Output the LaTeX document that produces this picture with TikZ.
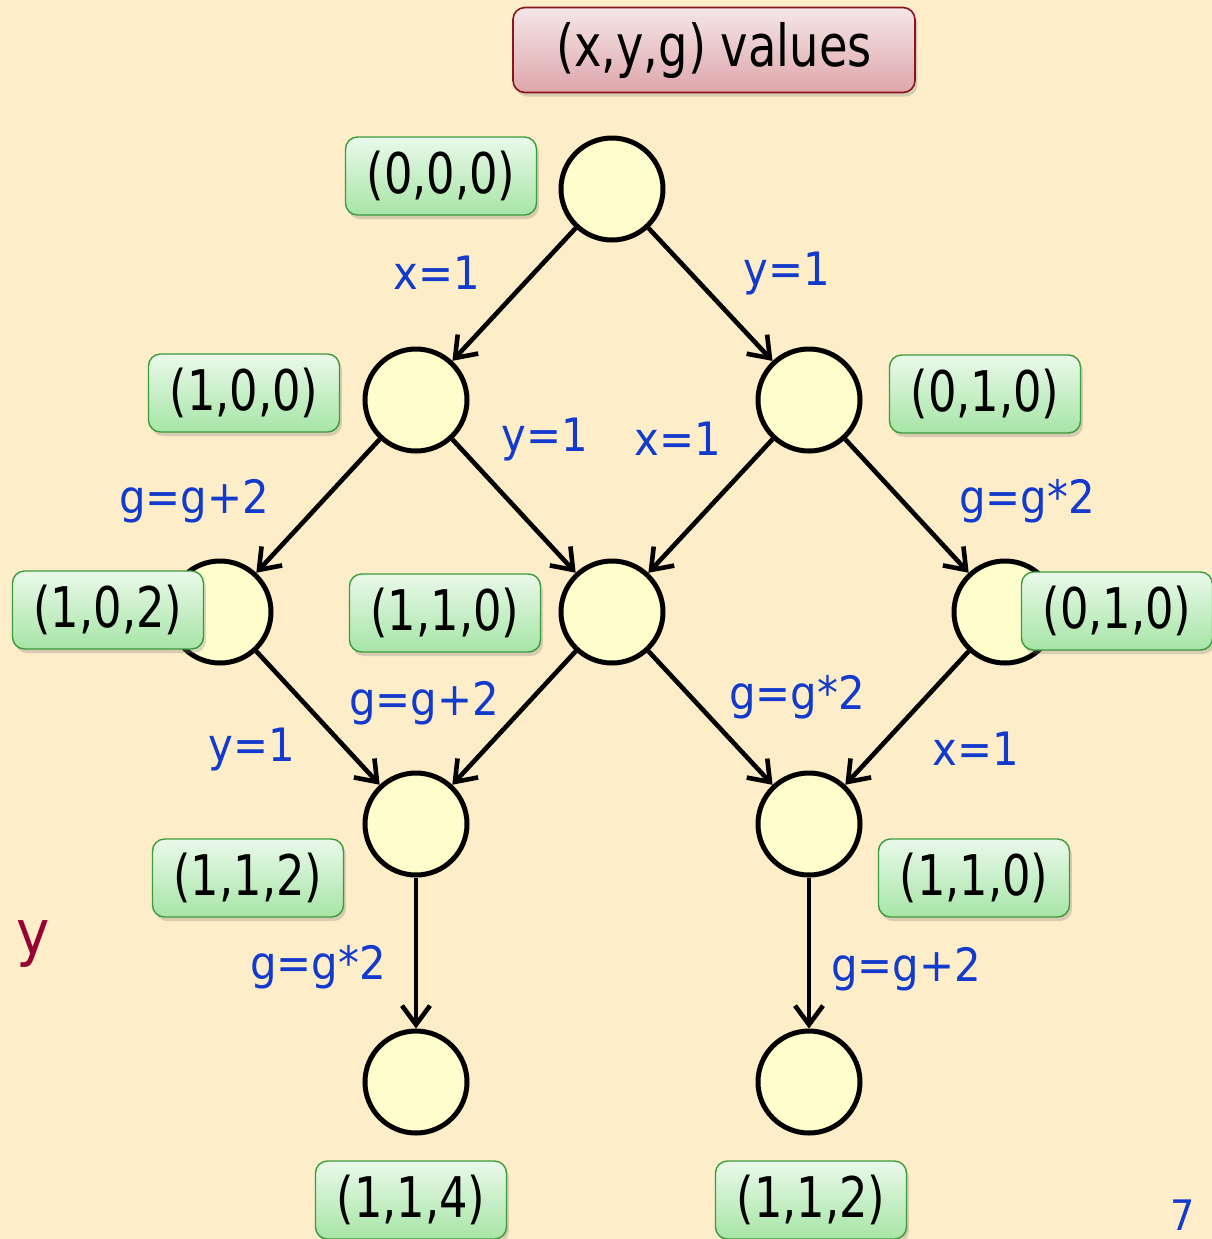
\documentclass[tikz,border=0pt]{standalone}
\usepackage{fontspec}
\setmainfont{DejaVu Sans}[FakeStretch=0.8]
\newfontfamily\opfont{DejaVu Sans}[FakeStretch=0.91]
\usetikzlibrary{arrows.meta,shadows}

\definecolor{paper}{RGB}{253,237,200}
\definecolor{statefill}{RGB}{255,253,204}
\definecolor{opblue}{RGB}{18,58,205}
\definecolor{valtop}{RGB}{234,249,234}
\definecolor{valbottom}{RGB}{166,229,166}
\definecolor{valborder}{RGB}{60,155,60}
\definecolor{titletop}{RGB}{245,230,232}
\definecolor{titlebottom}{RGB}{222,166,170}
\definecolor{titleborder}{RGB}{140,20,30}
\definecolor{ymark}{RGB}{150,0,50}

\begin{document}
\begin{tikzpicture}[%
      x=0.5pt, y=-0.5pt,
      state/.style={circle, draw=black, line width=2.5pt, fill=statefill,
        minimum size=51pt, inner sep=0pt},
      val/.style={rounded corners=6pt, draw=valborder, line width=0.7pt,
        top color=valtop, bottom color=valbottom,
        minimum width=95.5pt, minimum height=39pt, inner sep=0pt,
        font=\fontsize{28}{30}\selectfont,
        drop shadow={shadow xshift=1.2pt, shadow yshift=-2pt, opacity=0.3}},
      op/.style={text=opblue, font=\opfont\fontsize{23}{25}\selectfont},
      step arrow/.style={line width=2.3pt,
        -{Straight Barb[length=9.5pt, width=14pt]}},
      ]
      \fill [paper] (0,0) rectangle (1212,1239);
      \useasboundingbox (0,0) rectangle (1212,1239);

      % heading
      \node [rounded corners=6pt, draw=titleborder, line width=0.8pt,
        top color=titletop, bottom color=titlebottom,
        minimum width=201pt, minimum height=42.5pt,
        font=\fontsize{29}{31}\selectfont,
        drop shadow={shadow xshift=1.2pt, shadow yshift=-2pt, opacity=0.3}]
        (title) at (714,50) {(x,y,g) values};

      % states
      \node [state] (s0) at (612,189) {};
      \node [state] (s1) at (416,400) {};
      \node [state] (s2) at (809,400) {};
      \node [state] (s3) at (220,612) {};
      \node [state] (s4) at (612,612) {};
      \node [state] (s5) at (1005,612) {};
      \node [state] (s6) at (416,824) {};
      \node [state] (s7) at (809,824) {};
      \node [state] (s8) at (416,1082) {};
      \node [state] (s9) at (809,1082) {};

      % transitions
      \draw [step arrow] (s0) -- (s1);
      \draw [step arrow] (s0) -- (s2);
      \draw [step arrow] (s1) -- (s3);
      \draw [step arrow] (s1) -- (s4);
      \draw [step arrow] (s2) -- (s4);
      \draw [step arrow] (s2) -- (s5);
      \draw [step arrow] (s3) -- (s6);
      \draw [step arrow] (s4) -- (s6);
      \draw [step arrow] (s4) -- (s7);
      \draw [step arrow] (s5) -- (s7);
      \draw [step arrow] (s6) -- (s8);
      \draw [step arrow] (s7) -- (s9);

      % values at each state
      \node [val] (v0) at (441,176) {(0,0,0)};
      \node [val] (v1) at (244,393) {(1,0,0)};
      \node [val] (v2) at (985,394) {(0,1,0)};
      \node [val] (v3) at (108,610) {(1,0,2)};
      \node [val] (v4) at (445,613) {(1,1,0)};
      \node [val] (v5) at (1117,611) {(0,1,0)};
      \node [val] (v6) at (248,878) {(1,1,2)};
      \node [val] (v7) at (974,878) {(1,1,0)};
      \node [val] (v8) at (411,1200) {(1,1,4)};
      \node [val] (v9) at (811,1200) {(1,1,2)};

      % statements
      \node [op] (o01) at (437,273) {x=1};
      \node [op] (o02) at (787,274) {y=1};
      \node [op] (o14) at (545,440) {y=1};
      \node [op] (o24) at (678,439) {x=1};
      \node [op] (o13) at (194,501) {g=g+2};
      \node [op] (o25) at (1027,501) {g=g*2};
      \node [op] (o46) at (424,703) {g=g+2};
      \node [op] (o47) at (797,697) {g=g*2};
      \node [op] (o36) at (252,750) {y=1};
      \node [op] (o57) at (976,749) {x=1};
      \node [op] (o68) at (318,967) {g=g*2};
      \node [op] (o79) at (906,969) {g=g+2};

      \node [text=ymark, font=\opfont\fontsize{31}{33}\selectfont] (ylab) at (33,944) {y};
      \node [text=opblue, font=\opfont\fontsize{21}{23}\selectfont] (page) at (1183,1215) {7};
      \end{tikzpicture}
\end{document}
